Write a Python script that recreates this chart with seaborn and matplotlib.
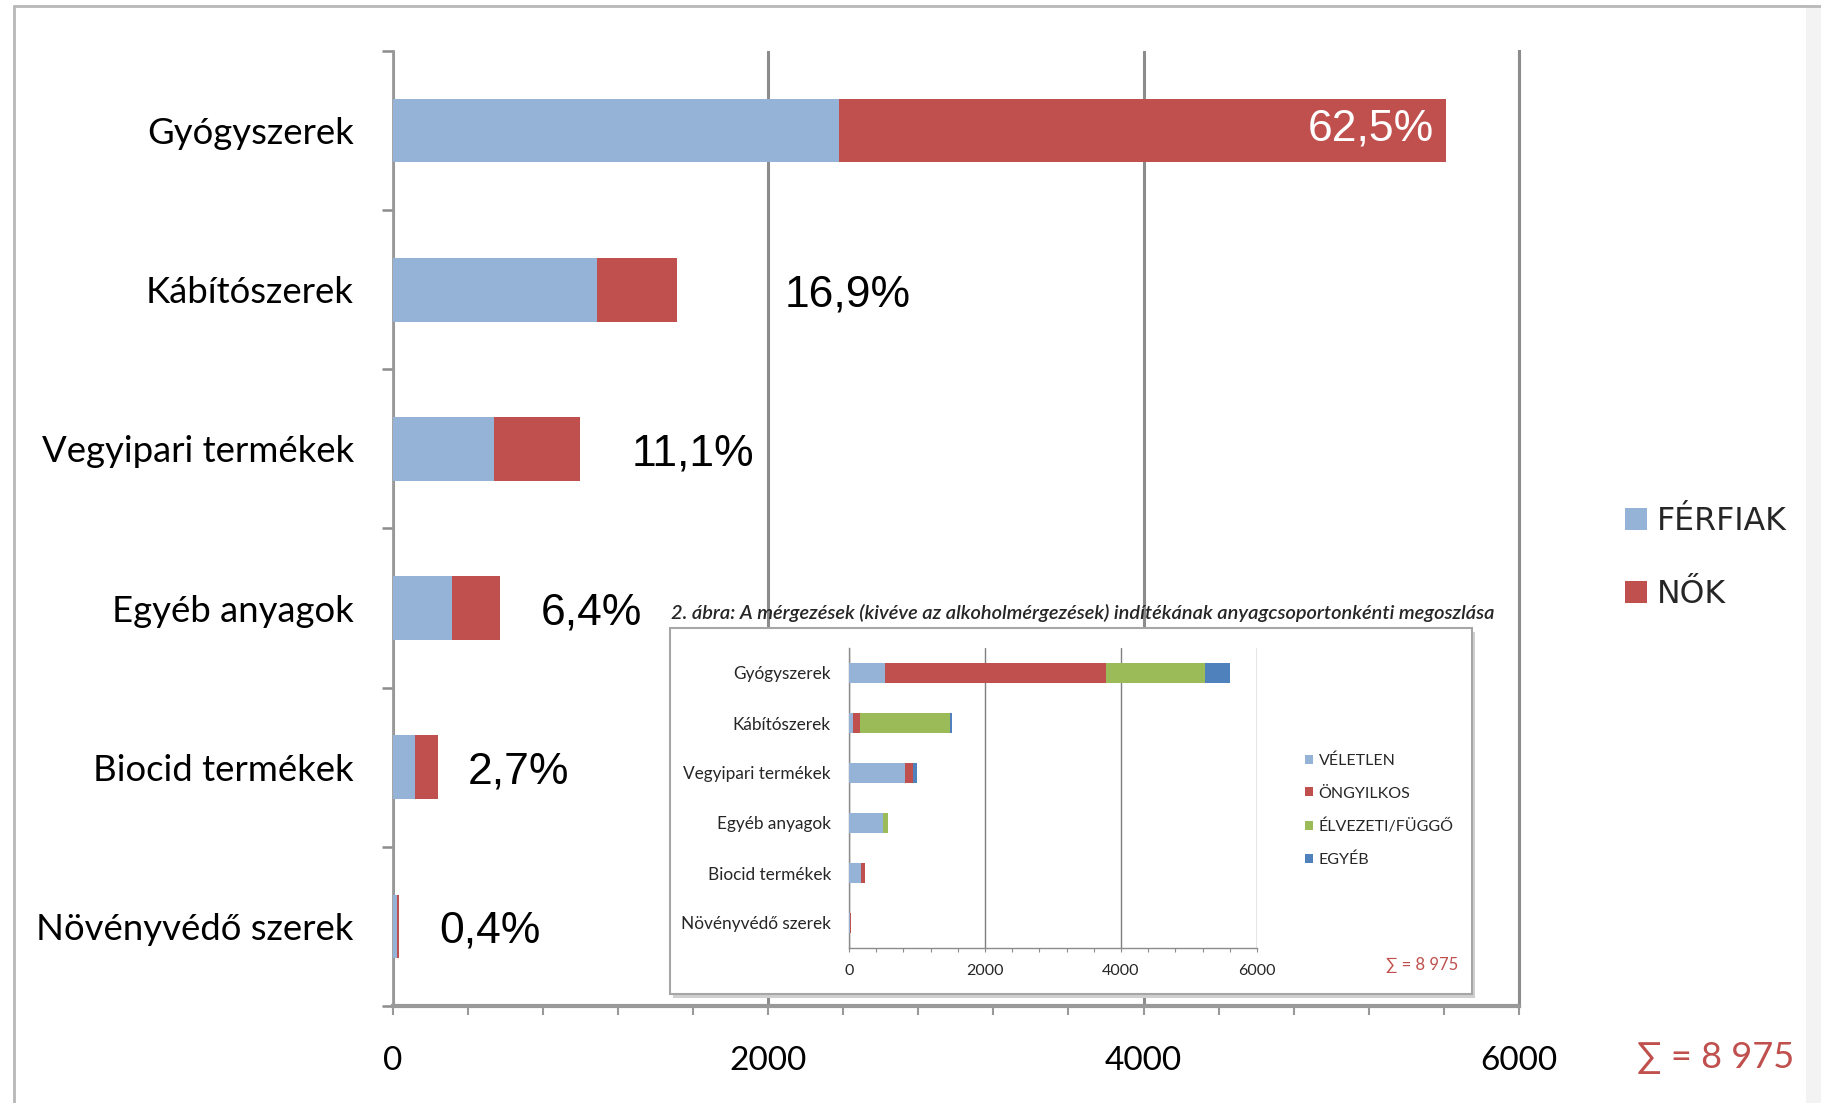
import numpy as np
import pandas as pd
import matplotlib
matplotlib.use("Agg")
import matplotlib.pyplot as plt
import seaborn as sns
from matplotlib.patches import Patch, Rectangle
from matplotlib.lines import Line2D

# ---------------- data ----------------
categories = ["Gyógyszerek", "Kábítószerek", "Vegyipari termékek",
              "Egyéb anyagok", "Biocid termékek", "Növényvédő szerek"]
ferfiak = [2380, 1090, 539, 315, 120, 21]
nok = [3229, 427, 457, 259, 122, 15]
pct_labels = ["62,5%", "16,9%", "11,1%", "6,4%", "2,7%", "0,4%"]
main_ticks = [0, 2000, 4000, 6000]

inset_title = ("2. ábra: A mérgezések (kivéve az alkoholmérgezések) "
               "indítékának anyagcsoportonkénti megoszlása")
veletlen = [528, 55, 830, 494, 180, 20]
ongyilkos = [3256, 110, 104, 6, 55, 14]
elvezeti = [1457, 1320, 10, 70, 3, 1]
egyeb = [368, 32, 52, 4, 4, 1]
inset_series = ["VÉLETLEN", "ÖNGYILKOS", "ÉLVEZETI/FÜGGŐ", "EGYÉB"]
sum_label = "∑ = 8 975"

# ---------------- style ----------------
BLUE = "#95B3D7"
RED = "#C0504D"
GREEN = "#9BBB59"
DBLUE = "#4F81BD"
GRID = "#8c8c8c"
SUMC = "#C0504D"
label_offsets_px = [(-12, 2), (107, -5), (52, -5), (40, -5), (30, -5), (40, -5)]

sns.set_style("white")
plt.rcParams["font.family"] = ["Lato", "DejaVu Sans"]

W, H = 1821, 1103
fig = plt.figure(figsize=(W / 100, H / 100), dpi=100)
PT = 0.72  # px -> pt


def fx(px):
    return px / W


def fy(py):
    return 1 - py / H


# ---------------- main chart ----------------
ax = fig.add_axes([fx(392.6), fy(1006), (1519 - 392.6) / W, (1006 - 51) / H])
ax.set_zorder(0)
df = pd.DataFrame({"cat": categories, "ferfiak": ferfiak, "nok": nok})
df["total"] = df["ferfiak"] + df["nok"]

sns.barplot(data=df, x="total", y="cat", color=RED, saturation=1, width=0.4,
            errorbar=None, linewidth=0, ax=ax, zorder=3)
sns.barplot(data=df, x="ferfiak", y="cat", color=BLUE, saturation=1, width=0.4,
            errorbar=None, linewidth=0, ax=ax, zorder=3)

ax.set_xlim(0, 6000)
ax.set_ylim(5.5, -0.5)
ax.set_xlabel("")
ax.set_ylabel("")
ax.set_xticks(main_ticks)
ax.set_xticklabels([str(t) for t in main_ticks])
ax.set_xticks(np.arange(0, 6001, 400), minor=True)
ax.set_yticks(np.arange(-0.5, 6, 1), minor=True)
ax.grid(axis="x", which="major", color=GRID, linewidth=2.2, zorder=1)
ax.set_axisbelow(True)

ax.spines["top"].set_visible(False)
ax.spines["left"].set_color("#999999")
ax.spines["left"].set_linewidth(2)
ax.spines["right"].set_color(GRID)
ax.spines["right"].set_linewidth(2.2)
ax.spines["bottom"].set_color("#999999")
ax.spines["bottom"].set_linewidth(3)

ax.tick_params(axis="y", which="both", left=True)
ax.tick_params(axis="x", which="both", bottom=True)
ax.tick_params(axis="y", which="major", length=0, pad=28, labelsize=26.3, labelcolor="black")
ax.tick_params(axis="y", which="minor", length=8, width=1.8, color="#8c8c8c", direction="out")
ax.tick_params(axis="x", which="both", length=6.5, width=1.5, color="#999999", direction="out")
ax.tick_params(axis="x", which="major", pad=22, labelsize=24, labelcolor="black")

for i, (tot, lab, off) in enumerate(zip(df["total"], pct_labels, label_offsets_px)):
    if i == 0:
        ax.annotate(lab, (tot, i), xytext=(off[0] * PT, off[1] * PT), textcoords="offset points",
                    ha="right", va="center", color="white", fontsize=32,
                    family=["Liberation Sans", "DejaVu Sans"], zorder=5)
    else:
        ax.annotate(lab, (tot, i), xytext=(off[0] * PT, off[1] * PT), textcoords="offset points",
                    ha="left", va="center", color="black", fontsize=32,
                    family=["Liberation Sans", "DejaVu Sans"], zorder=5)

handles = [Patch(facecolor=BLUE, edgecolor="none"), Patch(facecolor=RED, edgecolor="none")]
fig.legend(handles, ["FÉRFIAK", "NŐK"], loc="center left",
           bbox_to_anchor=(fx(1625), fy(558)), frameon=False,
           prop={"family": ["DejaVu Sans"], "size": 22.7},
           handlelength=0.7, handleheight=0.7, handletextpad=0.3,
           labelspacing=1.35, borderpad=0, borderaxespad=0)

fig.text(fx(1637), fy(1058), sum_label, ha="left", va="center", color=SUMC,
         fontsize=26, family=["Lato", "DejaVu Sans"])

# ---------------- inset ----------------
shadow = Rectangle((fx(673), fy(998)), (1472 - 670) / W, (994 - 628) / H,
                   transform=fig.transFigure, facecolor="#cfcfcf", edgecolor="none", zorder=1.8)
box = Rectangle((fx(670), fy(994)), (1472 - 670) / W, (994 - 628) / H,
                transform=fig.transFigure, facecolor="white", edgecolor="#a6a6a6",
                linewidth=1.5, zorder=2)
fig.add_artist(shadow)
fig.add_artist(box)
fig.text(fx(671), fy(613), inset_title, ha="left", va="center", style="italic",
         weight="semibold", fontsize=14.4, family=["Lato", "DejaVu Sans"], zorder=4)

iax = fig.add_axes([fx(849), fy(948), (1257 - 849) / W, (948 - 648) / H])
iax.set_zorder(3)
iax.patch.set_alpha(0)
idf = pd.DataFrame({"cat": categories})
c1 = np.array(veletlen)
c2 = c1 + np.array(ongyilkos)
c3 = c2 + np.array(elvezeti)
c4 = c3 + np.array(egyeb)
for vals, col in [(c4, DBLUE), (c3, GREEN), (c2, RED), (c1, BLUE)]:
    idf["v"] = vals
    sns.barplot(data=idf, x="v", y="cat", color=col, saturation=1, width=0.4,
                errorbar=None, linewidth=0, ax=iax, zorder=3)
iax.set_xlim(0, 6000)
iax.set_ylim(5.5, -0.5)
iax.set_xlabel("")
iax.set_ylabel("")
iax.set_xticks(main_ticks)
iax.set_xticklabels([str(t) for t in main_ticks])
iax.set_xticks(np.arange(0, 6001, 400), minor=True)
iax.grid(axis="x", which="major", color="#7f7f7f", linewidth=1, zorder=1)
iax.set_axisbelow(True)
iax.spines["top"].set_visible(False)
iax.spines["right"].set_visible(False)
for s in ["left", "bottom"]:
    iax.spines[s].set_color("#8c8c8c")
    iax.spines[s].set_linewidth(1)
iax.tick_params(axis="x", which="both", bottom=True)
iax.tick_params(axis="y", which="both", length=0, pad=13, labelsize=12.4)
iax.tick_params(axis="x", which="both", length=3, width=0.8, color="#8c8c8c", direction="out")
iax.tick_params(axis="x", which="major", pad=8.5, labelsize=11.5)

ihandles = [Patch(facecolor=c, edgecolor="none") for c in [BLUE, RED, GREEN, DBLUE]]
leg2 = fig.legend(ihandles, inset_series, loc="center left",
                  bbox_to_anchor=(fx(1305), fy(810.5)), frameon=False,
                  prop={"family": ["Lato", "DejaVu Sans"], "size": 11.5},
                  handlelength=0.5, handleheight=0.5, handletextpad=0.35,
                  labelspacing=1.15, borderpad=0, borderaxespad=0)
leg2.set_zorder(6)
fig.text(fx(1386), fy(965), sum_label, ha="left", va="center", color=SUMC,
         fontsize=12, family=["Lato", "DejaVu Sans"], zorder=6)

# ---------------- outer frame ----------------
fig.add_artist(Line2D([fx(14), fx(1821)], [fy(6), fy(6)], transform=fig.transFigure,
                      color="#b8b8b8", linewidth=2))
fig.add_artist(Line2D([fx(14), fx(14)], [fy(6), fy(1103)], transform=fig.transFigure,
                      color="#b8b8b8", linewidth=2))
fig.add_artist(Rectangle((fx(1806), 0), 15 / W, fy(6), transform=fig.transFigure,
                         facecolor="#f3f3f3", edgecolor="none", zorder=0.5))

fig.savefig("out.png", dpi=100)
